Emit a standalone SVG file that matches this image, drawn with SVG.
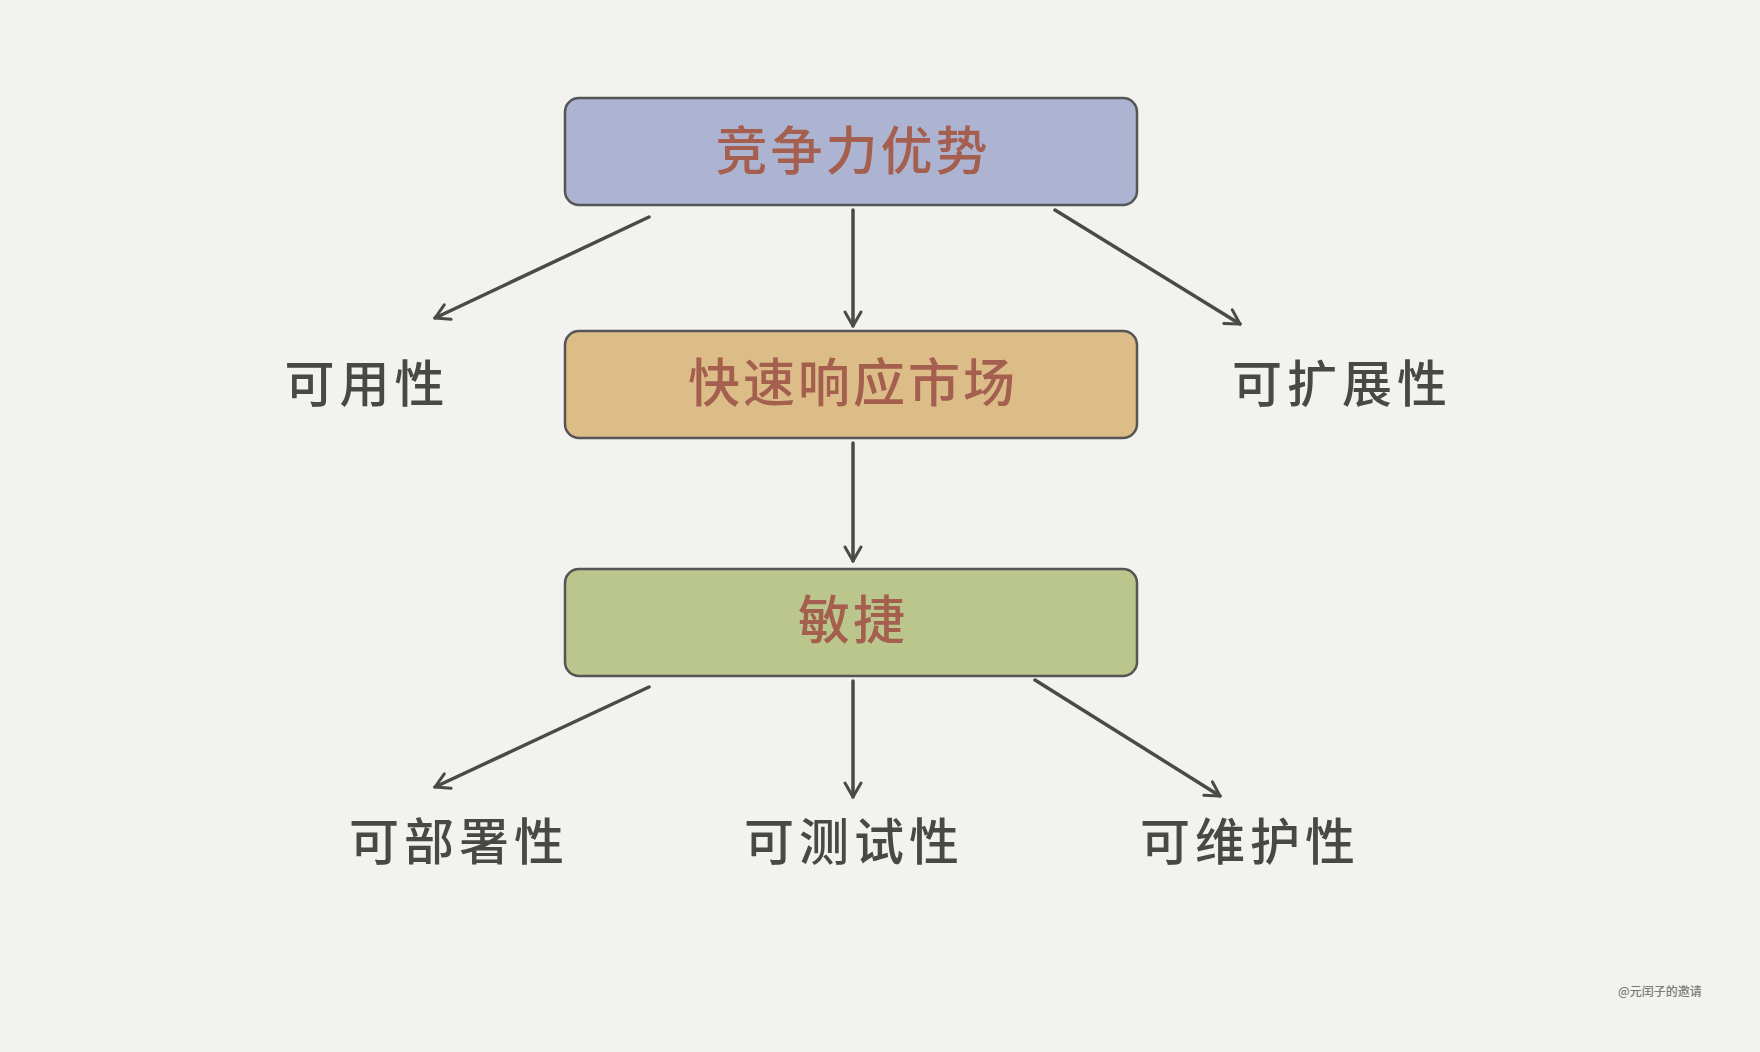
<svg xmlns="http://www.w3.org/2000/svg" width="1760" height="1052" viewBox="0 0 1760 1052">
<style>
.box{stroke:#555;stroke-width:2.5}
.title{font-family:"Noto Sans CJK SC","Noto Sans",sans-serif;font-size:52px;font-weight:500;fill:#a55f4f;text-anchor:middle;dominant-baseline:central;letter-spacing:3px}
.label{font-family:"Noto Sans CJK SC","Noto Sans",sans-serif;font-size:50px;font-weight:500;fill:#4a4846;text-anchor:middle;dominant-baseline:central;letter-spacing:5px}
.conn{stroke:#4a4a48;stroke-width:3.5;fill:none;stroke-linecap:round;marker-end:url(#arr)}
.wm{font-family:"Noto Sans CJK SC",sans-serif;font-size:12px;font-weight:500;fill:#7a7a78}
</style>
<defs>
<marker id="arr" viewBox="0 0 20 20" refX="18" refY="10" markerWidth="20" markerHeight="20" markerUnits="userSpaceOnUse" orient="auto">
<path d="M4,2 L18,10 L4,18" fill="none" stroke="#4a4a48" stroke-width="3" stroke-linecap="round" stroke-linejoin="round"/>
</marker>
</defs>
<rect width="1760" height="1052" fill="#f2f2ef"/>
<g id="connectors">
<line class="conn" x1="649" y1="217" x2="435" y2="318"/>
<line class="conn" x1="853" y1="210" x2="853" y2="326"/>
<line class="conn" x1="1055" y1="210" x2="1240" y2="324"/>
<line class="conn" x1="853" y1="443" x2="853" y2="561"/>
<line class="conn" x1="649" y1="687" x2="435" y2="787"/>
<line class="conn" x1="853" y1="681" x2="853" y2="797"/>
<line class="conn" x1="1035" y1="680" x2="1220" y2="796"/>
</g>
<g id="node-competitive">
<rect class="box" x="565" y="98" width="572" height="107" rx="14" fill="#adb4d1"/>
<text class="title" x="853" y="147">竞争力优势</text>
</g>
<g id="node-response">
<rect class="box" x="565" y="331" width="572" height="107" rx="14" fill="#dcbd88"/>
<text class="title" x="853" y="379">快速响应市场</text>
</g>
<g id="node-agile">
<rect class="box" x="565" y="569" width="572" height="107" rx="14" fill="#bbc68d"/>
<text class="title" x="853" y="616">敏捷</text>
</g>
<g id="node-availability"><text class="label" x="367" y="380">可用性</text></g>
<g id="node-scalability"><text class="label" x="1342" y="380">可扩展性</text></g>
<g id="node-deployability"><text class="label" x="459" y="838">可部署性</text></g>
<g id="node-testability"><text class="label" x="854" y="838">可测试性</text></g>
<g id="node-maintainability"><text class="label" x="1250" y="838">可维护性</text></g>
<text class="wm" x="1618" y="996">@元闰子的邀请</text>
</svg>
